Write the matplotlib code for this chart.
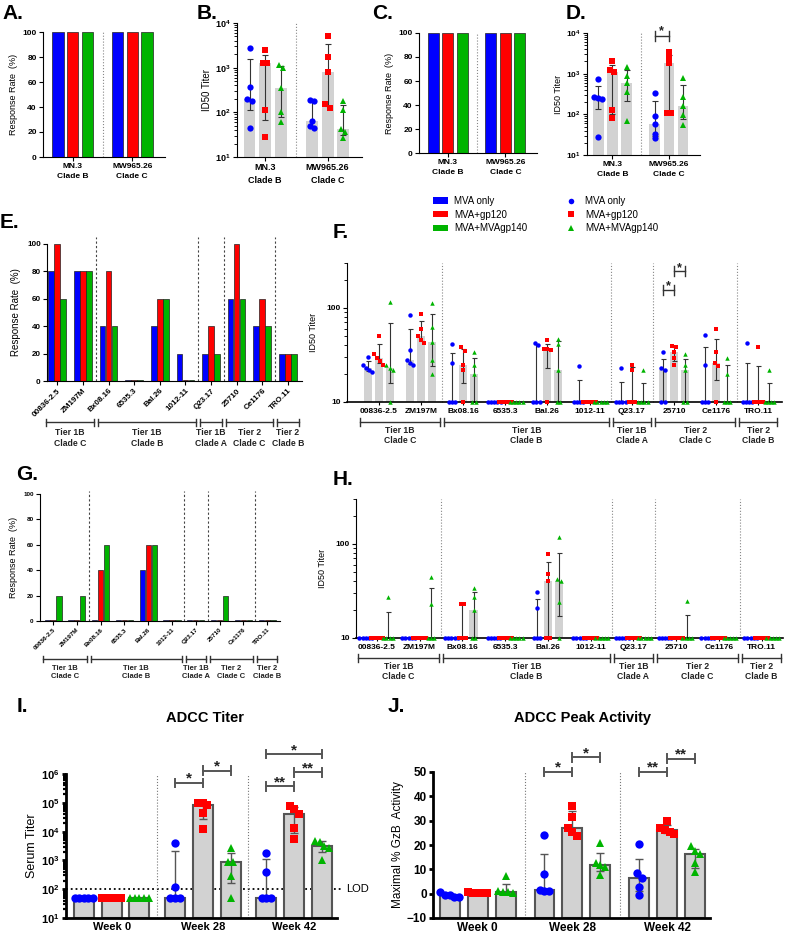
import numpy as np
import matplotlib.pyplot as plt
from matplotlib.patches import Patch
from matplotlib.lines import Line2D
from matplotlib.ticker import FixedLocator, FixedFormatter, LogLocator, NullFormatter

plt.rcParams['font.family'] = ['Liberation Sans', 'DejaVu Sans']
plt.rcParams['font.weight'] = 'bold'
plt.rcParams['mathtext.fontset'] = 'custom'
plt.rcParams['mathtext.rm'] = 'Liberation Sans'
plt.rcParams['mathtext.bf'] = 'Liberation Sans:bold'
plt.rcParams['mathtext.default'] = 'bf'

W, H = 785, 935

# ----------------------------- data ------------------------------------
group_names = ['MVA only', 'MVA+gp120', 'MVA+MVAgp140']
colors = ['#0000ff', '#ff0000', '#00b400']
markers = ['o', 's', '^']

top_strains = ['MN.3\nClade B', 'MW965.26\nClade C']

# A / C response rates (%)
rateA_mva = [100, 100]
rateA_gp120 = [100, 100]
rateA_gp140 = [100, 100]
rateC_mva = [100, 100]
rateC_gp120 = [100, 100]
rateC_gp140 = [100, 100]

# B / D ID50 titers, 5 animals per group
titerB_mva = [[2800, 370, 200, 175, 45], [190, 175, 65, 50, 45]]
titerB_gp120 = [[2500, 1300, 1300, 110, 28], [5000, 1700, 800, 150, 125]]
titerB_gp140 = [[1150, 1000, 350, 100, 60], [180, 110, 42, 36, 27]]
titerD_mva = [[740, 270, 255, 245, 28], [330, 90, 59, 33, 26]]
titerD_gp120 = [[2000, 1250, 1100, 125, 80], [3400, 2400, 1850, 110, 105]]
titerD_gp140 = [[1500, 900, 600, 350, 70], [780, 265, 160, 97, 56]]
sigD = [(1, 0, 1, '*', 8300)]

strains = ['00836-2.5', 'ZM197M', 'Bx08.16', '6535.3', 'Bal.26', '1012-11',
           'Q23.17', '25710', 'Ce1176', 'TRO.11']
tier_labels = ['Tier 1B\nClade C', 'Tier 1B\nClade B', 'Tier 1B\nClade A',
               'Tier 2\nClade C', 'Tier 2\nClade B']
tier_spans = [(0, 1), (2, 5), (6, 6), (7, 8), (9, 9)]

rateE_mva = [80, 80, 40, 0, 40, 20, 20, 60, 40, 20]
rateE_gp120 = [100, 80, 80, 0, 60, 0, 40, 100, 60, 20]
rateE_gp140 = [60, 80, 40, 0, 60, 0, 20, 60, 40, 20]

rateG_mva = [0, 0, 0, 0, 40, 0, 0, 0, 0, 0]
rateG_gp120 = [0, 0, 40, 0, 60, 0, 0, 0, 0, 0]
rateG_gp140 = [20, 20, 60, 0, 60, 0, 0, 20, 0, 0]

titerF_mva = [[30, 25, 23, 22, 21], [84, 36, 28, 26, 25], [41, 26, 10, 10, 10],
              [10, 10, 10, 10, 10], [42, 40, 10, 10, 10], [24, 10, 10, 10, 10],
              [23, 10, 10, 10, 10], [34, 23, 22, 10, 10], [51, 25, 10, 10, 10],
              [42, 10, 10, 10, 10]]
titerF_gp120 = [[50, 32, 29, 27, 24.5], [86, 60, 50, 46, 42], [38, 35, 25, 22, 10],
                [10, 10, 10, 10, 10], [46, 37, 37, 36, 10], [10, 10, 10, 10, 10],
                [25, 22, 10, 10, 10], [39, 38, 34, 29, 25], [60, 34, 26, 24, 10],
                [38, 10, 10, 10, 10]]
titerF_gp140 = [[115, 24.5, 23, 22, 10], [112, 62, 43, 28, 20], [34, 25, 20, 10, 10],
                [10, 10, 10, 10, 10], [47, 41, 22, 10, 10], [10, 10, 10, 10, 10],
                [22, 10, 10, 10, 10], [32, 25, 22, 10, 10], [29, 20, 10, 10, 10],
                [22, 10, 10, 10, 10]]
sigF = [(7, 0, 1, '*', 156), (7, 1, 2, '*', 245)]

titerH_mva = [[10, 10, 10, 10, 10], [10, 10, 10, 10, 10], [10, 10, 10, 10, 10],
              [10, 10, 10, 10, 10], [31, 21, 10, 10, 10], [10, 10, 10, 10, 10],
              [10, 10, 10, 10, 10], [10, 10, 10, 10, 10], [10, 10, 10, 10, 10],
              [10, 10, 10, 10, 10]]
titerH_gp120 = [[10, 10, 10, 10, 10], [10, 10, 10, 10, 10], [23, 23, 10, 10, 10],
                [10, 10, 10, 10, 10], [79, 48, 40, 10, 10], [10, 10, 10, 10, 10],
                [10, 10, 10, 10, 10], [10, 10, 10, 10, 10], [10, 10, 10, 10, 10],
                [10, 10, 10, 10, 10]]
titerH_gp140 = [[27.5, 10, 10, 10, 10], [45, 23, 10, 10, 10], [34, 27.5, 20, 10, 10],
                [10, 10, 10, 10, 10], [119, 42, 40, 24, 10], [10, 10, 10, 10, 10],
                [10, 10, 10, 10, 10], [25, 10, 10, 10, 10], [10, 10, 10, 10, 10],
                [10, 10, 10, 10, 10]]

weeks = ['Week 0', 'Week 28', 'Week 42']
adccI_mva = [[50, 50, 50, 50, 50], [4000, 120, 50, 50, 50], [1800, 410, 50, 50, 50]]
adccI_gp120 = [[50, 50, 50, 50, 50], [100000, 98000, 85000, 45000, 12000],
               [80000, 62000, 40000, 13000, 5600]]
adccI_gp140 = [[50, 50, 50, 50, 50], [2700, 900, 850, 280, 50],
               [4700, 4500, 3100, 2800, 1050]]
sigI = [(1, 0, 1, '*', 10**5.69), (1, 1, 2, '*', 10**6.12), (2, 0, 1, '**', 10**5.57),
        (2, 1, 2, '**', 10**6.06), (2, 0, 2, '*', 10**6.69)]
lod = 100

gzbJ_mva = [[0.5, -0.4, -0.5, -1.2, -1.3], [24.3, 8.2, 1.5, 1.3, 1.2], [20.6, 8.3, 6.3, 2.9, -0.4]]
gzbJ_gp120 = [[0.6, 0.4, 0.3, 0.2, 0.1], [36.2, 31.5, 27.0, 25.5, 23.5], [29.8, 27.0, 26.0, 25.3, 24.5]]
gzbJ_gp140 = [[7.2, 1.0, 0.7, 0.5, 0.3], [20.9, 12.5, 11.7, 11.0, 7.5], [19.5, 17.6, 16.5, 12.4, 9.0]]
sigJ = [(1, 0, 1, '*', 50), (1, 1, 2, '*', 56), (2, 0, 1, '**', 50), (2, 1, 2, '**', 55.4)]


# ----------------------------- helpers ------------------------------------
fig = plt.figure(figsize=(W / 100, H / 100), dpi=100)


def rect(x0, y0, x1, y1):
    return [x0 / W, 1 - y1 / H, (x1 - x0) / W, (y1 - y0) / H]


def style(ax, fs, lw=0.8):
    ax.spines[['top', 'right']].set_visible(False)
    ax.spines['left'].set_linewidth(lw)
    ax.spines['bottom'].set_linewidth(lw)
    ax.tick_params(labelsize=fs, width=lw, length=3, pad=1.5)
    ax.tick_params(which='minor', width=lw * 0.8, length=2)


def swarm(vals, thr, step, log):
    v = np.log10(vals) if log else np.asarray(vals, float)
    order = np.argsort(-v)
    offs = np.zeros(len(v))
    clusters, cur = [], [order[0]]
    for i in order[1:]:
        if v[cur[-1]] - v[i] < thr:
            cur.append(i)
        else:
            clusters.append(cur)
            cur = [i]
    clusters.append(cur)
    for c in clusters:
        for k, i in enumerate(c):
            offs[i] = (k - (len(c) - 1) / 2) * step
    return offs


def yfrac(ax, y):
    return (ax.transScale + ax.transLimits).transform((0, y))[1]


def rate_panel(ax, series, off, bw, floor=0.0):
    x = np.arange(len(series[0]))
    for gi, (vals, c) in enumerate(zip(series, colors)):
        ax.bar(x + (gi - 1) * off, np.maximum(vals, floor), width=bw, color=c,
               edgecolor='#222', lw=0.5)
    ax.set_ylim(0, 100)
    ax.set_yticks(range(0, 101, 20))


def dot_panel(ax, series, off, bw, bottom, log, thr, step, ms,
              barkw=None, ecol='#333', elw=0.8, cap=2):
    barkw = barkw or {}
    for gi, (vals_list, col, mk) in enumerate(zip(series, colors, markers)):
        for si, vals in enumerate(vals_list):
            vals = np.asarray(vals, float)
            x = si + (gi - 1) * off
            # median with interquartile range
            q1, med, q3 = np.percentile(vals, [25, 50, 75], method='weibull')
            if med > bottom * 1.001 if log else med > bottom:
                ax.bar(x, med - bottom, bottom=bottom, width=bw, color='#d2d2d2',
                       zorder=1, **barkw)
            if q3 > q1:
                ax.errorbar(x, med, yerr=[[med - q1], [q3 - med]], fmt='none',
                            ecolor=ecol, elinewidth=elw, capsize=cap, capthick=elw, zorder=2)
            xs = x + swarm(vals, thr, step, log)
            ax.plot(xs, vals, ls='none', marker=mk, color=col, ms=ms, mew=0,
                    zorder=3, clip_on=False)


def sig(ax, items, off, fs, h=0.025, lw=1.0, col='#333', tpad=0.0):
    tr = ax.get_xaxis_transform()
    for si, a, b, lab, y in items:
        x0, x1 = si + (a - 1) * off, si + (b - 1) * off
        yf = yfrac(ax, y)
        ax.plot([x0, x1], [yf, yf], color=col, lw=lw, transform=tr, clip_on=False)
        ax.plot([x0, x0], [yf - h, yf + h], color=col, lw=lw, transform=tr, clip_on=False)
        ax.plot([x1, x1], [yf - h, yf + h], color=col, lw=lw, transform=tr, clip_on=False)
        ax.text((x0 + x1) / 2, yf + tpad, lab, ha='center', va='bottom', fontsize=fs,
                transform=tr, color='#222')


def dividers(ax, xs, ls, col, lw=0.8, top=1.0):
    tr = ax.get_xaxis_transform()
    for x in xs:
        ax.plot([x, x], [0, top], ls=ls, color=col, lw=lw, transform=tr, clip_on=False, zorder=0)


def tiers(ax, ycap, ylab, fs, d, ext=0.45):
    tr = ax.get_xaxis_transform()
    for (a, b), lab in zip(tier_spans, tier_labels):
        x0, x1 = a - ext, b + ext
        ax.plot([x0, x1], [ycap, ycap], color='#333', lw=1, transform=tr, clip_on=False)
        ax.plot([x0, x0], [ycap - d, ycap + d], color='#333', lw=1, transform=tr, clip_on=False)
        ax.plot([x1, x1], [ycap - d, ycap + d], color='#333', lw=1, transform=tr, clip_on=False)
        ax.text((x0 + x1) / 2, ylab, lab, ha='center', va='top', fontsize=fs,
                transform=tr, linespacing=1.25, color='#222')


def log_titer_axis(ax, fs):
    ax.set_yscale('log')
    ax.set_ylim(10, 1e4)
    ax.yaxis.set_major_locator(LogLocator(base=10, numticks=10))
    ax.yaxis.set_minor_locator(LogLocator(base=10, subs=np.arange(2, 10), numticks=10))
    ax.yaxis.set_minor_formatter(NullFormatter())


def small_log_axis(ax):
    ax.set_yscale('log')
    ax.set_ylim(10, 300)
    ax.yaxis.set_major_locator(FixedLocator([10, 100]))
    ax.yaxis.set_major_formatter(FixedFormatter(['10', '100']))
    ax.yaxis.set_minor_locator(FixedLocator([20, 30, 40, 50, 60, 70, 80, 90, 200, 300]))
    ax.yaxis.set_minor_formatter(NullFormatter())


def letter(x, y, s):
    fig.text(x / W, 1 - y / H, s, fontsize=15, fontweight='bold', va='top', ha='left')


# ----------------------------- A & C ------------------------------------
for r, series, lab in [((43, 32, 165, 157), [rateA_mva, rateA_gp120, rateA_gp140], 'A.'),
                       ((419, 33, 537, 153), [rateC_mva, rateC_gp120, rateC_gp140], 'C.')]:
    ax = fig.add_axes(rect(*r))
    rate_panel(ax, series, 0.25, 0.19)
    ax.set_xlim(-0.5, 1.55)
    ax.set_xticks([0, 1])
    ax.set_xticklabels(top_strains, linespacing=1.6)
    ax.set_ylabel('Response Rate  (%)', fontsize=6.5, labelpad=3)
    dividers(ax, [0.5], ':', '#888')
    style(ax, 6)

# ----------------------------- B & D ------------------------------------
for r, series, lab in [((237, 23, 362, 157), [titerB_mva, titerB_gp120, titerB_gp140], 'B'),
                       ((587, 33, 700, 155), [titerD_mva, titerD_gp120, titerD_gp140], 'D')]:
    ax = fig.add_axes(rect(*r))
    log_titer_axis(ax, 6)
    dot_panel(ax, series, 0.25, 0.19, 10, True, 0.1, 0.07, 4.5, ecol='#333')
    ax.set_xlim(-0.45, 1.55)
    ax.set_xticks([0, 1])
    ax.set_xticklabels(top_strains, linespacing=1.6)
    ax.set_ylabel('ID50 Titer', fontsize=7 if lab == 'B' else 6.5, labelpad=2)
    dividers(ax, [0.5], ':', '#888')
    style(ax, 6.5 if lab == 'B' else 6)
    if lab == 'D':
        sig(ax, sigD, 0.25, 9, h=0.04, tpad=-0.01)

letter(2, 4, 'A.')
letter(197, 4, 'B.')
letter(372, 4, 'C.')
letter(566, 4, 'D.')

# ----------------------------- legends ------------------------------------
bar_handles = [Patch(facecolor=c, edgecolor='none') for c in colors]
mk_handles = [Line2D([], [], ls='none', marker=m, color=c, ms=4, mew=0)
              for m, c in zip(markers, colors)]
fig.legend(bar_handles, group_names, loc='upper left', bbox_to_anchor=(433 / W, 1 - 196 / H),
           frameon=False, prop={'size': 7, 'weight': 'normal'}, handlelength=1.5,
           handleheight=0.6, handletextpad=0.7, labelspacing=0.38, borderpad=0, borderaxespad=0)
fig.legend(mk_handles, group_names, loc='upper left', bbox_to_anchor=(566 / W, 1 - 196 / H),
           frameon=False, prop={'size': 7, 'weight': 'normal'}, handlelength=1.0,
           handletextpad=1.0, labelspacing=0.38, borderpad=0, borderaxespad=0)

# ----------------------------- E & G ------------------------------------
ax = fig.add_axes(rect(47, 244, 302, 381))
rate_panel(ax, [rateE_mva, rateE_gp120, rateE_gp140], 0.235, 0.22, floor=0.8)
ax.set_xlim(-0.4, 9.55)
ax.set_xticks(range(10))
ax.set_xticklabels(strains, rotation=45, ha='right', rotation_mode='anchor')
ax.set_ylabel('Response Rate  (%)', fontsize=7, labelpad=4)
dividers(ax, [1.5, 5.5, 6.5, 8.5], (0, (2, 2)), '#444', top=1.05)
style(ax, 5.8)
tiers(ax, -0.30, -0.345, 6.2, 0.025, ext=0.42)
letter(0, 213, 'E.')

ax = fig.add_axes(rect(40, 494, 280, 621))
rate_panel(ax, [rateG_mva, rateG_gp120, rateG_gp140], 0.25, 0.22, floor=0.8)
ax.set_xlim(-0.55, 9.54)
ax.set_xticks(range(10))
ax.set_xticklabels(strains, rotation=45, ha='right', rotation_mode='anchor')
ax.set_ylabel('Response Rate  (%)', fontsize=6.5, labelpad=4)
dividers(ax, [1.5, 5.5, 6.5, 8.5], (0, (2, 2)), '#444', top=1.02)
style(ax, 4.5)
tiers(ax, -0.30, -0.345, 5.5, 0.025, ext=0.42)
letter(16, 465, 'G.')

# ----------------------------- F & H ------------------------------------
for r, series, xl, sg, lab, ly in [
        ((347, 263, 782, 402), [titerF_mva, titerF_gp120, titerF_gp140], (-0.75, 9.56), sigF, 'F.', 223),
        ((356, 499, 783, 638), [titerH_mva, titerH_gp120, titerH_gp140], (-0.49, 9.5), None, 'H.', 470)]:
    ax = fig.add_axes(rect(*r))
    small_log_axis(ax)
    dot_panel(ax, series, 0.26, 0.19, 10, True, 0.045, 0.075, 3.2, ecol='#333', elw=0.8, cap=1.8)
    ax.set_xlim(*xl)
    ax.set_xticks(range(10))
    ax.set_xticklabels(strains)
    ax.set_ylabel('ID50 Titer', fontsize=6.5, labelpad=6)
    dividers(ax, [1.5, 5.5, 6.5, 8.5], ':', '#888')
    style(ax, 6)
    ax.spines['bottom'].set_linewidth(1.2)
    ax.tick_params(axis='x', length=2.5)
    tiers(ax, -0.143, -0.17, 6.2, 0.03)
    if sg:
        sig(ax, sg, 0.26, 9, h=0.035, tpad=-0.02)
    letter(333, ly, lab)

# ----------------------------- I & J ------------------------------------
barkw = dict(edgecolor='#555555', lw=1.5)

ax = fig.add_axes(rect(66, 774, 337, 918))
ax.set_yscale('log')
ax.set_ylim(10, 1e6)
ax.yaxis.set_major_locator(LogLocator(base=10, numticks=10))
ax.yaxis.set_minor_locator(LogLocator(base=10, subs=np.arange(2, 10), numticks=10))
ax.yaxis.set_minor_formatter(NullFormatter())
dot_panel(ax, [adccI_mva, adccI_gp120, adccI_gp140], 0.305, 0.22, 10, True, 0.24, 0.05, 6,
          barkw=barkw, ecol='#555', elw=1.0, cap=3)
ax.set_xlim(-0.5, 2.47)
ax.set_xticks(range(3))
ax.set_xticklabels(weeks, fontsize=9.5)
ax.plot([-0.5, 2.53], [lod, lod], ls=':', color='k', lw=1.3, clip_on=False, zorder=0)
ax.text(2.57, lod, 'LOD', fontsize=8, fontweight='normal', va='center', ha='left')
ax.set_ylabel('Serum Titer', fontsize=9, labelpad=2)
dividers(ax, [0.5, 1.5], ':', '#777')
style(ax, 8, lw=2)
ax.tick_params(axis='x', length=0, pad=3)
sig(ax, sigI, 0.305, 11, h=0.03, lw=1.4, col='#555', tpad=-0.02)
fig.text(205 / W, 1 - 718 / H, 'ADCC Titer', fontsize=10.5, ha='center', va='center')
letter(17, 697, 'I.')

ax = fig.add_axes(rect(433, 772, 710, 918))
ax.set_ylim(-10, 50)
ax.set_yticks(range(-10, 51, 10))
dot_panel(ax, [gzbJ_mva, gzbJ_gp120, gzbJ_gp140], 0.295, 0.21, -10, False, 2.5, 0.05, 6,
          barkw=barkw, ecol='#555', elw=1.0, cap=3)
ax.set_xlim(-0.47, 2.45)
ax.set_xticks(range(3))
ax.set_xticklabels(weeks, fontsize=9.5)
ax.set_ylabel('Maximal % GzB  Activity', fontsize=8.5, labelpad=2)
dividers(ax, [0.5, 1.5], ':', '#777')
style(ax, 8.5, lw=2)
ax.tick_params(axis='x', length=0, pad=3)
sig(ax, sigJ, 0.295, 11, h=0.03, lw=1.4, col='#555', tpad=-0.02)
fig.text(583 / W, 1 - 718 / H, 'ADCC Peak Activity', fontsize=10.5, ha='center', va='center')
letter(388, 697, 'J.')

fig.savefig('out.png', dpi=100)
